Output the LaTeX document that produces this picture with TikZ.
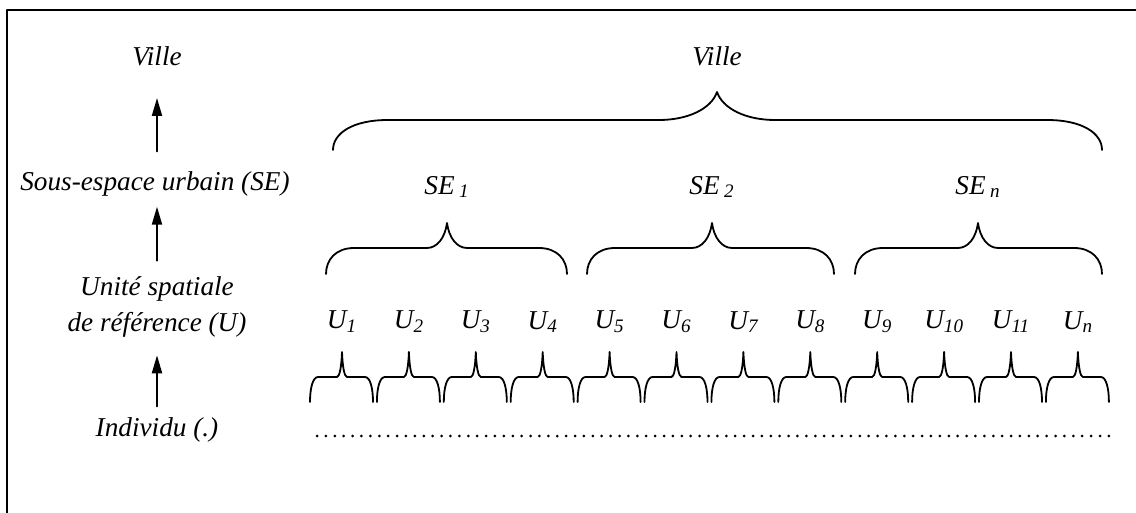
\documentclass[tikz,border=0pt]{standalone}
\usepackage{fontspec}
\setmainfont{Liberation Serif}
\usetikzlibrary{arrows.meta}

% accolade: xl, xt, xr, y end, y flat, y tip, end radius, tip radius
\newcommand{\accolade}[8]{%
  \draw[accol] (#1,#4) .. controls (#1,{#5+0.45*(#4-#5)}) and ({#1+0.35*#7},#5) .. ({#1+#7},#5)
  -- ({#2-#8},#5) .. controls ({#2-0.5*#8},#5) and ({#2-0.1*#8},{#5-0.4*(#5-#6)}) .. (#2,#6)
  .. controls ({#2+0.1*#8},{#5-0.4*(#5-#6)}) and ({#2+0.5*#8},#5) .. ({#2+#8},#5)
  -- ({#3-#7},#5) .. controls ({#3-0.35*#7},#5) and (#3,{#5+0.45*(#4-#5)}) .. (#3,#4);}

\begin{document}
\begin{tikzpicture}[x=0.02cm, y=-0.02cm, line join=round, line cap=round,
  font=\itshape\fontsize{15.5}{20}\selectfont,
  every node/.style={inner sep=0pt},
  fleche/.style={-{Triangle[length=0.36cm,width=0.2cm]}, line width=0.04cm},
  accol/.style={line width=0.036cm}]
  \useasboundingbox (0,0) rectangle (1136,513);
  \draw[line width=0.048cm, line cap=butt] (7,513) -- (7,10) -- (1136,10);

  % niveaux
  \node (ville) at (157,56) {Ville};
  \node (se) at (155,184) {Sous-espace urbain (SE)};
  \node[align=center] (unite) at (157,307) {Unité spatiale\\de référence (U)};
  \node (indiv) at (157,430) {Individu (.)};

  \draw[fleche, shorten <=0.4cm, shorten >=0.64cm] (se.north -| ville) -- (ville.south);
  \draw[fleche, shorten <=0.32cm, shorten >=0.2cm] (unite.north) -- (se.south -| unite);
  \draw[fleche, shorten <=0.22cm, shorten >=0.36cm] (indiv.north) -- (unite.south);

  % ville
  \node (villeR) at (717,56) {Ville};
  \accolade{333}{717}{1102}{150}{120}{92}{55}{58}

  % sous-espaces
  \foreach \x/\s/\l/\r in {447/1/326/567, 712/2/587/834, 978/n/855/1102}{
    \node (se\s) at (\x,187) {SE\,\textsubscript{\s}};
    \accolade{\l}{\x}{\r}{274}{248}{223}{28}{20}
  }

  % unites
  \foreach \i/\s in {1/1,2/2,3/3,4/4,5/5,6/6,7/7,8/8,9/9,10/10,11/11,12/n}{
    \pgfmathsetmacro{\t}{342+66.9*(\i-1)}
    \node (u\i) at (\t,322) {U\textsubscript{\s}};
    \accolade{\t-32}{\t}{\t+31}{402}{377}{352}{8}{5}
  }

  % individus
  \draw[line width=0.06cm, dash pattern=on 0pt off 0.178cm] (317,436) -- (1117,436);
\end{tikzpicture}
\end{document}
